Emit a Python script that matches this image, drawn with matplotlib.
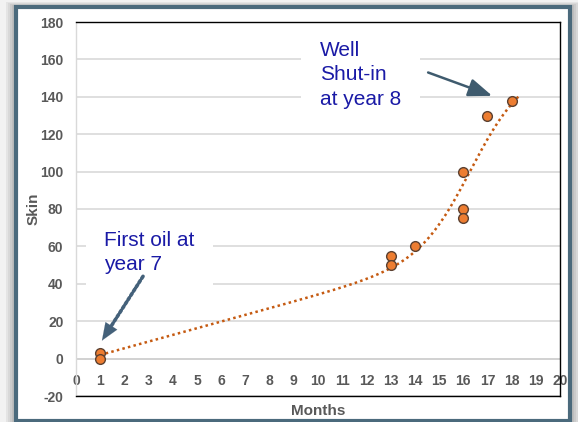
import numpy as np
import matplotlib
matplotlib.use("Agg")
import matplotlib.pyplot as plt
from matplotlib.patches import Rectangle

plt.rcParams["axes.unicode_minus"] = False

# ---- data ----
months = [1, 1, 13, 13, 14, 16, 16, 16, 17, 18]
skin = [3, 0, 55, 50, 60, 100, 80, 75, 130, 138]
x_ticks = list(range(0, 21))
y_ticks = list(range(-20, 181, 20))
x_label = "Months"
y_label = "Skin"
note_shut = "Well\nShut-in\nat year 8"
note_first = "First oil at\nyear 7"
# trendline shape: linear + logistic step (centre, width), fitted to the data
trend_centre = 16.3
trend_width = 1.05
trend_forward = 0.33

W, H = 578, 422
fig = plt.figure(figsize=(W / 100, H / 100), dpi=100)
fig.patch.set_facecolor("#f2f2f2")

def px_rect(x0, y0, x1, y1, **kw):
    r = Rectangle((x0 / W, 1 - y1 / H), (x1 - x0) / W, (y1 - y0) / H,
                  transform=fig.transFigure, zorder=-10, **kw)
    fig.patches.append(r)

for i, a in enumerate([0.10, 0.10, 0.12, 0.14, 0.16]):
    d = 10 - 2 * i
    px_rect(16 - d, 7 - d / 2, 570 + d, 424, facecolor="#707070", alpha=a, edgecolor="none")
px_rect(16, 7, 570, 421, facecolor="white", edgecolor="#4b6a7c", linewidth=3)

ax = fig.add_axes([76 / W, 26 / H, (560 - 76) / W, (396 - 22) / H])
ax.set_zorder(1)
ax.set_xlim(0, 20)
ax.set_ylim(-20, 180)
ax.set_facecolor("white")

ax.set_yticks(y_ticks)
ax.set_xticks(x_ticks)
ax.yaxis.grid(True, color="#d9d9d9", linewidth=1.2)
ax.axhline(0, color="#d0d0d0", linewidth=1.2, zorder=1)
ax.set_axisbelow(True)

tick_fam = ["Liberation Sans Narrow", "Liberation Sans"]
ax.tick_params(axis="both", length=0, colors="#595959")
ax.tick_params(axis="y", pad=9)
ax.tick_params(axis="x", pad=-16)
for lab in ax.get_xticklabels() + ax.get_yticklabels():
    lab.set_fontfamily(tick_fam)
    lab.set_fontweight("bold")
    lab.set_fontsize(10)
    lab.set_color("#595959")

for s in ["top", "right", "bottom"]:
    ax.spines[s].set_color("black")
    ax.spines[s].set_linewidth(1.0)
    ax.spines[s].set_zorder(3)
ax.spines["left"].set_color("#d9d9d9")
ax.spines["left"].set_linewidth(1.0)

ax.set_xlabel(x_label, fontfamily=tick_fam, fontweight="bold", fontsize=11,
              color="#595959", labelpad=5.5)
ax.set_ylabel(y_label, fontfamily=tick_fam, fontweight="bold", fontsize=11,
              color="#595959", labelpad=0)

# trendline: least-squares fit of a linear + logistic model to the points
mx = np.asarray(months, float)
my = np.asarray(skin, float)
def basis(x):
    return np.column_stack([np.ones_like(x), x,
                            1.0 / (1.0 + np.exp(-(x - trend_centre) / trend_width))])
coef, *_ = np.linalg.lstsq(basis(mx), my, rcond=None)
xs = np.linspace(mx.min(), mx.max() + trend_forward, 300)
ax.plot(xs, basis(xs) @ coef, color="#c55a11", linewidth=1.8,
        linestyle=(0, (1, 1.3)), zorder=3.5)

ax.plot(months, skin, linestyle="none", marker="o", markersize=7,
        markerfacecolor="#ed7d31", markeredgecolor="#5b4030",
        markeredgewidth=1.0, zorder=4)

txt_kw = dict(fontfamily="Liberation Sans", fontsize=15, color="#1a1aa6",
              linespacing=1.38, va="top", ha="left", zorder=2.4,
              bbox=dict(boxstyle="square,pad=0.9", facecolor="white", edgecolor="none"))
ax.text(10.08, 170, note_shut, **txt_kw)
ax.text(1.17, 68.5, note_first, **txt_kw)

# solid arrow to the shut-in point
ax.annotate("", xy=(17.2, 140.5), xytext=(14.55, 153),
            arrowprops=dict(arrowstyle="-|>,head_length=1.45,head_width=0.55",
                            color="#3f5b6e", linewidth=1.8,
                            shrinkA=0, shrinkB=0), zorder=6)
# dotted arrow to the first-oil point: dotted shaft + solid head
tip = (1.07, 9.6)
tail = (2.77, 44.0)
ax.annotate("", xy=(tip[0] + 0.12 * (tail[0] - tip[0]), tip[1] + 0.12 * (tail[1] - tip[1])),
            xytext=tail,
            arrowprops=dict(arrowstyle="-", color="#44617a", linewidth=2.6,
                            linestyle=(0, (0.7, 0.7)), shrinkA=0, shrinkB=0), zorder=6)
ax.annotate("", xy=tip,
            xytext=(tip[0] + 0.3 * (tail[0] - tip[0]), tip[1] + 0.3 * (tail[1] - tip[1])),
            arrowprops=dict(arrowstyle="-|>,head_length=1.25,head_width=0.5",
                            color="#44617a", linewidth=0.1,
                            shrinkA=0, shrinkB=0), zorder=6)

fig.savefig("out.png", dpi=100, facecolor=fig.get_facecolor())
